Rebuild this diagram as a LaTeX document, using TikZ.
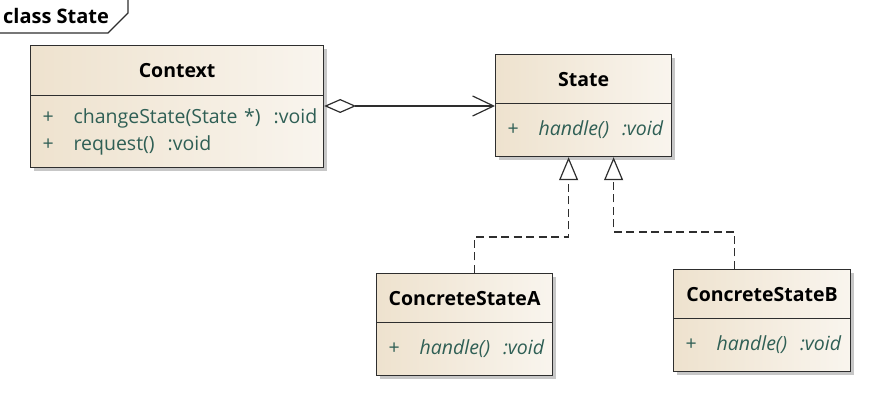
\documentclass[tikz,border=0pt]{standalone}
\usepackage{fontspec}
\setmainfont{Open Sans}
\usetikzlibrary{arrows.meta,shadows}

\definecolor{umlfill}{HTML}{EEE2CE}
\definecolor{umlline}{HTML}{2E2E2E}
\definecolor{membertext}{HTML}{2F5F55}
\newcommand{\plusop}{\makebox[31pt][l]{+}}
\newcommand{\memberline}[1]{\mbox{\plusop #1}}

\begin{document}
\begin{tikzpicture}[x=1pt, y=-1pt,
    every node/.style={font=\fontsize{19.5pt}{27pt}\selectfont},
    classbox/.style={draw=umlline, line width=1.2pt, anchor=north west,
      left color=umlfill, right color=umlfill!35!white,
      drop shadow={shadow xshift=3pt, shadow yshift=-3pt, fill=black!40, opacity=0.55}},
    classhead/.style={classbox, font=\fontsize{19.5pt}{27pt}\selectfont\bfseries, inner sep=0pt},
    classbody/.style={classbox, align=left, inner xsep=12pt, inner ysep=0pt, text=membertext},
    realize/.style={umlline, line width=1.2pt, dash pattern=on 8pt off 4.5pt, -{Triangle[open, length=23pt, width=19pt]}},
    aggregate/.style={umlline, line width=1.2pt, {Diamond[open, length=32pt, width=14pt]}-{Straight Barb[length=21pt, width=20pt]}}]
  \useasboundingbox (0,0) rectangle (879,403);

  % frame tab
  \draw[umlline, line width=1.2pt] (0,33) -- (108,33) -- (128,13) -- (128,0);
  \node[anchor=west, font=\fontsize{20pt}{27pt}\selectfont\bfseries, inner sep=0pt] at (3,16) (frame) {class State};

  % classes
  \node[classhead, minimum width=293pt, minimum height=50pt] at (30,45)  (ctxhead) {Context};
  \node[classbody, text width=269pt, minimum height=72pt]    at (30,95)  (ctxbody)
    {\memberline{changeState(State *)\ \ :void}\\ \memberline{request()\ \ :void}};

  \node[classhead, minimum width=176pt, minimum height=49pt] at (495,54)  (sthead) {State};
  \node[classbody, text width=152pt, minimum height=53pt]    at (495,103) (stbody)
    {\memberline{\itshape handle()\ \ :void}};

  \node[classhead, minimum width=176pt, minimum height=49pt] at (376,273) (ahead) {ConcreteStateA};
  \node[classbody, text width=152pt, minimum height=53pt]    at (376,322) (abody)
    {\memberline{\itshape handle()\ \ :void}};

  \node[classhead, minimum width=177pt, minimum height=49pt] at (673,269) (bhead) {ConcreteStateB};
  \node[classbody, text width=153pt, minimum height=53pt]    at (673,318) (bbody)
    {\memberline{\itshape handle()\ \ :void}};

  % relations
  \draw[aggregate] ([yshift=-11pt]ctxbody.north east) -- ([yshift=-3pt]stbody.north west);
  \draw[realize] ([xshift=10pt]ahead.north) -- ++(0,-36) -| ([xshift=-15pt]stbody.south);
  \draw[realize] ([xshift=-27.5pt]bhead.north) -- ++(0,-37) -| ([xshift=30pt]stbody.south);
\end{tikzpicture}
\end{document}
